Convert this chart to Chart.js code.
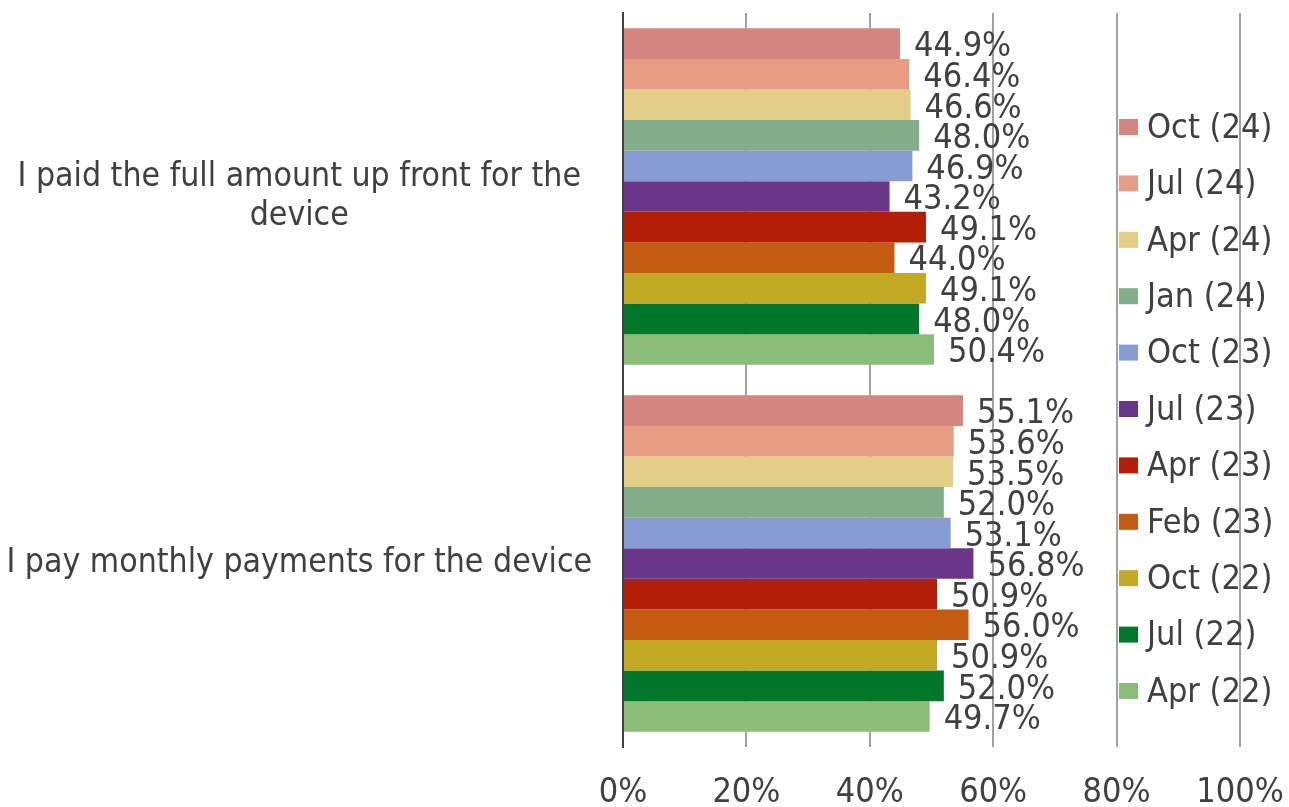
<!DOCTYPE html>
<html>
<head>
<meta charset="utf-8">
<script src="https://cdn.jsdelivr.net/npm/chart.js@4/dist/chart.umd.min.js"></script>
<style>
html,body{margin:0;padding:0;background:#fff;}
#wrap{width:1289px;height:807px;}
</style>
</head>
<body>
<div id="wrap"><canvas id="c" width="1289" height="807"></canvas></div>
<script>
const categories = [
  ["I paid the full amount up front for the", "device"],
  "I pay monthly payments for the device"
];
const seriesNames = ["Oct (24)","Jul (24)","Apr (24)","Jan (24)","Oct (23)","Jul (23)","Apr (23)","Feb (23)","Oct (22)","Jul (22)","Apr (22)"];
const fullUpFront = [44.9, 46.4, 46.6, 48.0, 46.9, 43.2, 49.1, 44.0, 49.1, 48.0, 50.4];
const monthly     = [55.1, 53.6, 53.5, 52.0, 53.1, 56.8, 50.9, 56.0, 50.9, 52.0, 49.7];
const seriesColors = ["#d58580","#e69d84","#e4ce87","#84ad89","#869cd2","#693689","#b11f08","#c55a11","#c3a823","#00772b","#8bbd78"];
const xTicks = [0, 20, 40, 60, 80, 100];

const TEXT = "#404040";
const COND = "'DejaVu Sans Condensed', 'DejaVu Sans', sans-serif";

const datasets = seriesNames.map((name, i) => ({
  label: name,
  data: [fullUpFront[i], monthly[i]],
  backgroundColor: seriesColors[i],
  borderWidth: 0,
  categoryPercentage: 11/12,
  barPercentage: 1.0
}));

const valueLabels = {
  id: 'valueLabels',
  afterDatasetsDraw(chart) {
    const ctx = chart.ctx;
    ctx.save();
    ctx.font = "34px " + COND;
    ctx.fillStyle = TEXT;
    ctx.textAlign = 'left';
    ctx.textBaseline = 'middle';
    chart.data.datasets.forEach((ds, di) => {
      const meta = chart.getDatasetMeta(di);
      meta.data.forEach((bar, j) => {
        const v = ds.data[j];
        ctx.fillText(v.toFixed(1) + '%', bar.x + 14, bar.y + 4);
      });
    });
    ctx.restore();
  }
};

const customLegend = {
  id: 'customLegend',
  afterDraw(chart) {
    const ctx = chart.ctx;
    ctx.save();
    ctx.font = "34px " + COND;
    ctx.textAlign = 'left';
    ctx.textBaseline = 'middle';
    const y0 = 127, step = 56.4;
    chart.data.datasets.forEach((ds, i) => {
      const y = y0 + i * step;
      ctx.fillStyle = ds.backgroundColor;
      ctx.fillRect(1119, y - 8, 19, 16);
      ctx.fillStyle = TEXT;
      ctx.fillText(ds.label, 1147, y + 2);
    });
    ctx.restore();
  }
};

new Chart(document.getElementById('c'), {
  type: 'bar',
  data: { labels: categories, datasets },
  options: {
    indexAxis: 'y',
    responsive: false,
    animation: false,
    layout: { padding: { top: 13, right: 49, left: 0, bottom: 0 } },
    plugins: {
      legend: { display: false },
      tooltip: { enabled: false }
    },
    scales: {
      x: {
        min: 0, max: 100,
        afterBuildTicks: s => { s.ticks = xTicks.map(v => ({ value: v })); },
        afterFit: s => { s.height = 60; s.paddingLeft = 0; s.paddingRight = 0; },
        border: { display: false },
        grid: {
          drawTicks: false,
          lineWidth: 2,
          color: c => (c.tick && c.tick.value === 0) ? 'rgba(0,0,0,0)' : '#a3a3a3'
        },
        ticks: {
          padding: 26,
          color: TEXT,
          font: { family: COND, size: 34 },
          callback: v => v + '%'
        }
      },
      y: {
        afterFit: s => { s.width = 623; s.paddingTop = 0; s.paddingBottom = 0; },
        border: { display: true, color: '#404040', width: 2 },
        grid: { display: false, drawTicks: false },
        ticks: {
          padding: 31,
          crossAlign: 'center',
          color: TEXT,
          font: { family: COND, size: 33.5, lineHeight: 1.17 }
        }
      }
    }
  },
  plugins: [valueLabels, customLegend]
});
</script>
</body>
</html>
